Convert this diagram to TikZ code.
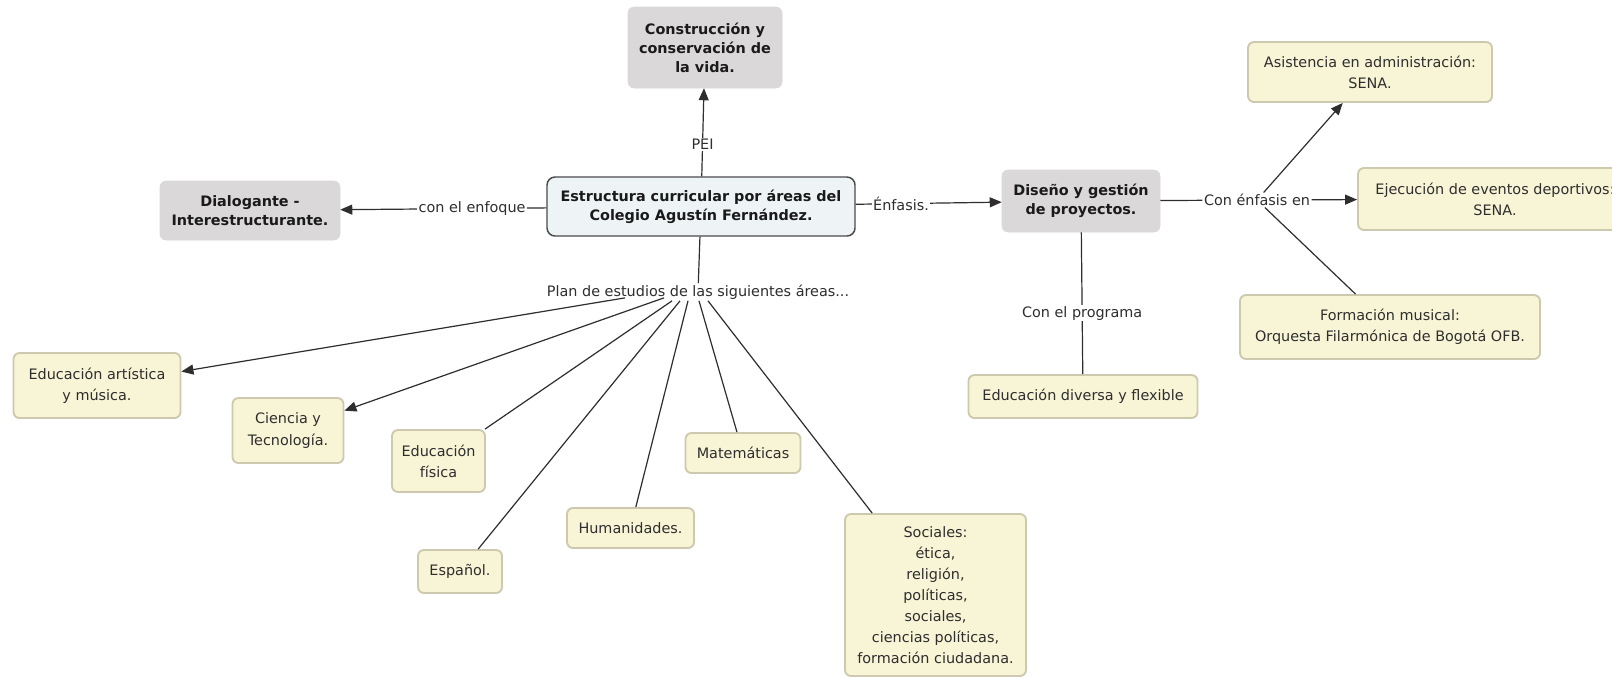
\documentclass[tikz,border=0pt]{standalone}
\usepackage{fontspec}
\setmainfont{DejaVu Sans}
\usetikzlibrary{arrows.meta,calc}
\definecolor{gfill}{HTML}{DAD8D8}
\definecolor{yfill}{HTML}{F8F5D6}
\definecolor{ydraw}{HTML}{CDC9AE}
\definecolor{bfill}{HTML}{EEF4F6}
\definecolor{bdraw}{HTML}{4A4A4A}
\definecolor{linec}{HTML}{2E2E2E}
\definecolor{txt}{HTML}{2E2E2E}
\definecolor{btxt}{HTML}{1A1A1A}
\tikzset{
  gbox/.style={fill=gfill, draw=gfill, rounded corners=4.5pt, align=center, inner sep=2pt,
    text=btxt, font=\fontsize{10.8pt}{14.3pt}\selectfont\bfseries},
  cbox/.style={fill=bfill, draw=bdraw, line width=1.1pt, rounded corners=6pt, align=center, inner sep=2pt,
    text=btxt, font=\fontsize{10.8pt}{14pt}\selectfont\bfseries},
  ybox/.style={fill=yfill, draw=ydraw, line width=1.4pt, rounded corners=4.5pt, align=center, inner sep=2pt,
    text=txt, font=\fontsize{10.8pt}{15.8pt}\selectfont},
  lbl/.style={fill=white, inner sep=1pt, text=txt, font=\fontsize{10.8pt}{13pt}\selectfont},
  conn/.style={draw=linec, line width=0.9pt},
  arr/.style={conn, -{Triangle[length=9pt,width=7.5pt]}},
}
\begin{document}
\begin{tikzpicture}[x=0.75pt,y=-0.75pt]
\useasboundingbox (0,0) rectangle (1612,676);
\clip (0,0) rectangle (1612,676);
\fill[white] (0,0) rectangle (1612,676);

% main concepts
\node[gbox, minimum width=115.5pt, minimum height=60.75pt] (top) at (705,47.5)
  {Construcción y\\conservación de\\la vida.};
\node[cbox, minimum width=231pt, minimum height=44.25pt] (center) at (701,206.5)
  {Estructura curricular por áreas del\\Colegio Agustín Fernández.};
\node[gbox, minimum width=135pt, minimum height=44.25pt] (dia) at (250,210.5)
  {Dialogante -\\Interestructurante.};
\node[gbox, minimum width=118.5pt, minimum height=46.5pt] (dis) at (1081,201)
  {Diseño y gestión\\de proyectos.};

% right side
\node[ybox, minimum width=183pt, minimum height=45pt] (asis) at (1370,72)
  {Asistencia en administración:\\SENA.};
\node[ybox, minimum width=205.5pt, minimum height=46.5pt] (ejec) at (1495,199)
  {Ejecución de eventos deportivos:\\SENA.};
\node[ybox, minimum width=225pt, minimum height=48pt] (form) at (1390,327)
  {Formación musical:\\Orquesta Filarmónica de Bogotá OFB.};
\node[ybox, minimum width=171.75pt, minimum height=32.25pt] (edd) at (1083,396.5)
  {Educación diversa y flexible};

% areas
\node[ybox, minimum width=125.25pt, minimum height=48.75pt] (art) at (97,385.5)
  {Educación artística\\y música.};
\node[ybox, minimum width=83.25pt, minimum height=48.75pt] (cien) at (288,430.5)
  {Ciencia y\\Tecnología.};
\node[ybox, minimum width=69.75pt, minimum height=46.5pt] (fis) at (438.5,461)
  {Educación\\física};
\node[ybox, minimum width=86.25pt, minimum height=30pt] (mat) at (743,453)
  {Matemáticas};
\node[ybox, minimum width=95.25pt, minimum height=30pt] (hum) at (630.5,528)
  {Humanidades.};
\node[ybox, minimum width=63pt, minimum height=32.25pt] (esp) at (460,571.5)
  {Español.};
\node[ybox, minimum width=135.75pt, minimum height=121.5pt] (soc) at (935.5,595)
  {Sociales:\\ética,\\religión,\\políticas,\\sociales,\\ciencias políticas,\\formación ciudadana.};

% linking phrases that are nodes
\node[lbl] (plan) at (698,292) {Plan de estudios de las siguientes áreas...};
\node[lbl] (cen) at (1257,200) {Con énfasis en};

% connectors
\draw[arr] (center) -- node[lbl, pos=0.36] {PEI} (top);
\draw[arr] (center) -- node[lbl, pos=0.36] {con el enfoque} (dia);
\draw[arr] (center) -- node[lbl, pos=0.31] {Énfasis.} (dis);
\draw[conn] (center) -- (plan);

\draw[conn] (dis) -- (cen);
\draw[arr] (cen) -- (ejec);
\draw[arr] (cen) -- (asis);
\draw[conn] (cen) -- (form);
\draw[conn] (dis) -- node[lbl, pos=0.57] {Con el programa} (edd);

\draw[arr]  ($(plan.south)+(-73,-3)$) -- (art);
\draw[arr]  ($(plan.south)+(-34,-3)$) -- (cien);
\draw[conn] ($(plan.south)+(-26,0)$) -- (fis);
\draw[conn] ($(plan.south)+(-18,0)$) -- (esp);
\draw[conn] ($(plan.south)+(-10,0)$) -- (hum);
\draw[conn] ($(plan.south)+(1,0)$) -- (mat);
\draw[conn] ($(plan.south)+(10,0)$) -- (soc);
\end{tikzpicture}
\end{document}
